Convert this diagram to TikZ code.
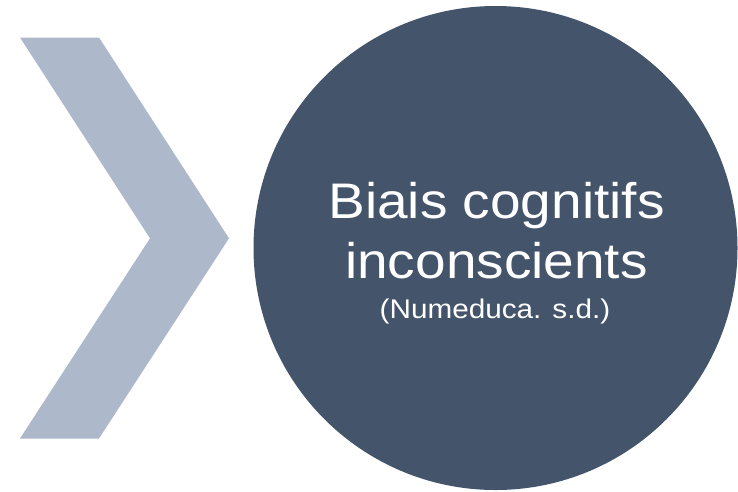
\documentclass[tikz,border=0pt]{standalone}
\usepackage{fontspec}
\setmainfont[FakeStretch=1.1]{Liberation Sans}
\definecolor{circfill}{HTML}{44546A}
\definecolor{chevfill}{HTML}{ADB9CA}
\begin{document}
\begin{tikzpicture}[x=1pt,y=-1pt,
  bigcirc/.style={circle,fill=circfill,draw=none,minimum size=484pt,inner sep=0pt},
  titletext/.style={text=white,anchor=base,inner sep=0pt,font=\fontsize{50}{60}\selectfont},
  subtext/.style={text=white,anchor=base,inner sep=0pt,font=\fontsize{27}{32}\selectfont}]
\useasboundingbox (0,0) rectangle (738,491);
\fill[chevfill] (20,37.5) -- (99,37.5) -- (229,238.3) -- (99,438.5) -- (20,438.5) -- (150,238.3) -- cycle;
\node[bigcirc] (c) at (495.5,248) {};
\node[titletext] (t1) at (496.5,218) {Biais cognitifs};
\node[titletext] (t2) at (496.5,278) {inconscients};
\node[subtext] (t3) at (495,318) {(Numeduca. s.d.)};
\end{tikzpicture}
\end{document}
